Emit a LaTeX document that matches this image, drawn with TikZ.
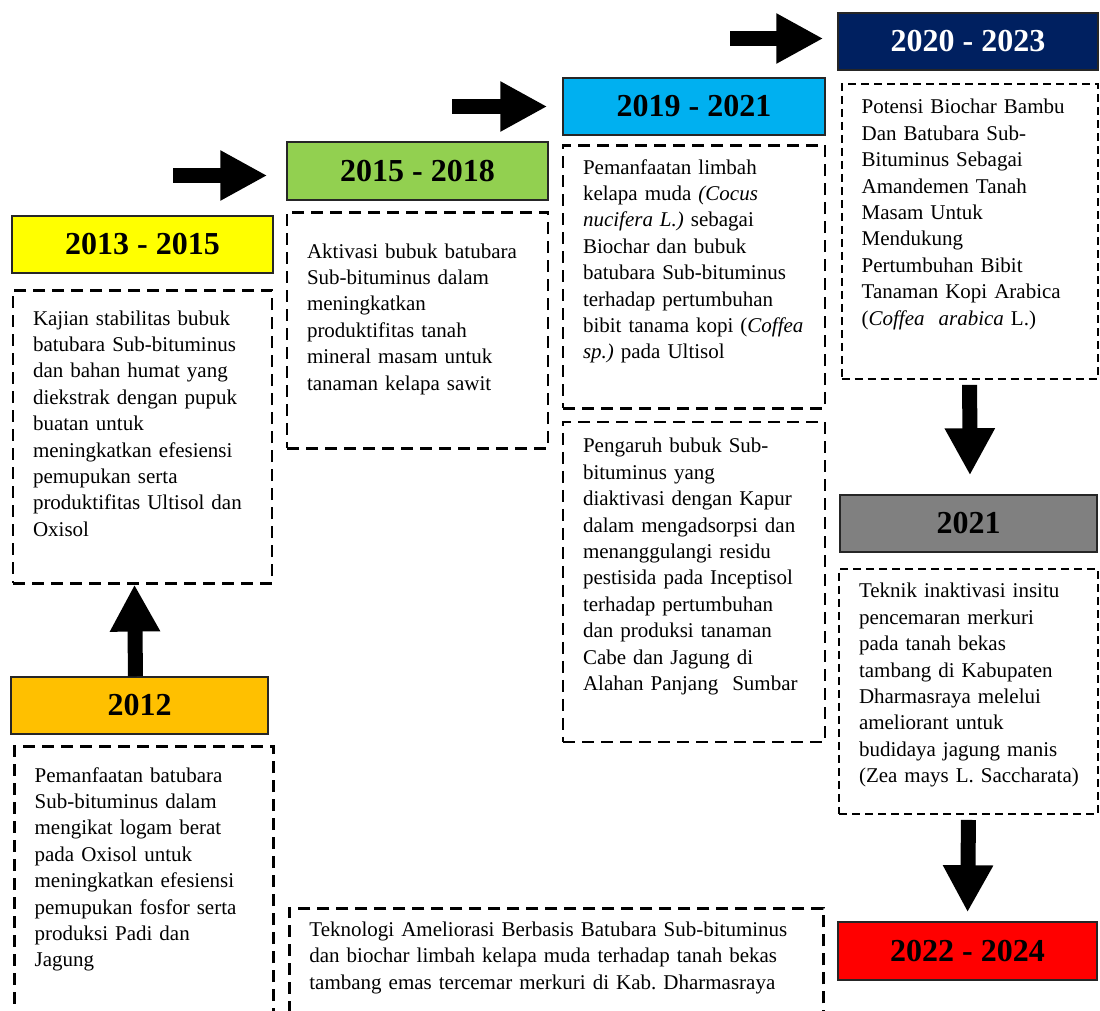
\documentclass[tikz,border=0pt]{standalone}
\usepackage{fontspec}
\setmainfont{Liberation Serif}
\usetikzlibrary{arrows.meta, positioning}
\definecolor{yearyellow}{RGB}{255,255,0}
\definecolor{yeargreen}{RGB}{146,208,80}
\definecolor{yearcyan}{RGB}{0,176,240}
\definecolor{yearnavy}{RGB}{0,32,96}
\definecolor{yeargray}{RGB}{128,128,128}
\definecolor{yearred}{RGB}{255,0,0}
\definecolor{yearorange}{RGB}{255,192,0}
\definecolor{edge}{RGB}{38,38,38}
\frenchspacing
\hyphenpenalty=10000
\exhyphenpenalty=10000

\begin{document}
\begin{tikzpicture}[x=1pt, y=-1pt, node distance=12pt]
\tikzstyle{year} = [rectangle, draw=edge, line width=1.5pt, text=black,
    minimum width=260pt, minimum height=57pt, inner sep=0pt,
    font=\fontsize{32}{36}\selectfont\bfseries]
\tikzstyle{desc} = [rectangle, draw, line width=2.8pt, dash pattern=on 12pt off 7pt,
    inner xsep=20pt, inner ysep=0pt, align=left, font=\fontsize{21}{26.4}\selectfont]
\tikzstyle{finedesc} = [desc, line width=2.2pt, dash pattern=on 8pt off 5pt]
\tikzstyle{blockarrow} = [draw, line width=15pt, -{Triangle[length=47pt, width=47pt]}]
\useasboundingbox (0,0) rectangle (1100,1010);

    % Place nodes
    \node [year, fill=yearorange, minimum width=257pt] (h12) at (139.5,705.5) {2012};
    \node [year, fill=yearyellow, minimum width=261pt] (h1315) at (142.5,244.5) {2013 - 2015};
    \node [year, fill=yeargreen, minimum width=261pt, minimum height=58pt] (h1518) at (417.5,171) {2015 - 2018};
    \node [year, fill=yearcyan, minimum width=262pt] (h1921) at (694,106.5) {2019 - 2021};
    \node [year, fill=yearnavy, text=white] (h2023) at (968,41.5) {2020 - 2023};
    \node [year, fill=yeargray, minimum width=257pt] (h21) at (968.5,523.5) {2021};
    \node [year, fill=yearred, minimum width=259pt, minimum height=58pt] (h2224) at (967.5,951) {2022 - 2024};

    \node [desc, text width=219pt, text height=35pt, text depth=258pt,
        below=15pt of h1315] (d1315)
        {Kajian stabilitas bubuk\\ batubara Sub-bituminus\\ dan bahan humat yang\\
         diekstrak dengan pupuk\\ buatan untuk\\ meningkatkan efesiensi\\
         pemupukan serta\\ produktifitas Ultisol dan\\ Oxisol};
    \node [desc, text width=221pt, text height=46pt, text depth=190pt,
        below=10pt of h1518] (d1518)
        {Aktivasi bubuk batubara\\ Sub-bituminus dalam\\ meningkatkan\\
         produktifitas tanah\\ mineral masam untuk\\ tanaman kelapa sawit};
    \node [desc, text width=222pt, text height=29pt, text depth=234pt,
        below=8pt of h1921] (d1921a)
        {Pemanfaatan limbah\\ kelapa muda \textit{(Cocus}\\ \textit{nucifera L.)} sebagai\\
         Biochar dan bubuk\\ batubara Sub-bituminus\\ terhadap pertumbuhan\\
         bibit tanama kopi (\textit{Coffea}\\ \textit{sp.)} pada Ultisol};
    \node [desc, text width=222pt, text height=31pt, text depth=289pt,
        below=11pt of d1921a] (d1921b)
        {Pengaruh bubuk Sub-\\ bituminus yang\\ diaktivasi dengan Kapur\\
         dalam mengadsorpsi dan\\ menanggulangi residu\\ pestisida pada Inceptisol\\
         terhadap pertumbuhan\\ dan produksi tanaman\\ Cabe dan Jagung di\\
         Alahan Panjang\ \ Sumbar};
    \node [finedesc, text width=216pt, text height=30pt, text depth=265pt,
        below=12pt of h2023.south east, anchor=north east] (d2023)
        {Potensi Biochar Bambu\\ Dan Batubara Sub-\\ Bituminus Sebagai\\
         Amandemen Tanah\\ Masam Untuk\\ Mendukung\\ Pertumbuhan Bibit\\
         Tanaman Kopi Arabica\\ (\textit{Coffea\ \ arabica} L.)};
    \node [finedesc, text width=219pt, text height=29pt, text depth=216pt,
        below=15pt of h21] (d21)
        {Teknik inaktivasi insitu\\ pencemaran merkuri\\ pada tanah bekas\\
         tambang di Kabupaten\\ Dharmasraya melelui\\ ameliorant untuk\\
         budidaya jagung manis\\ \mbox{(Zea mays L. Saccharata)}};
    \node [desc, text width=219pt, text height=36pt, text depth=264pt,
        below=10pt of h12.south west, anchor=north west, xshift=3pt] (d12)
        {Pemanfaatan batubara\\ Sub-bituminus dalam\\ mengikat logam berat\\
         pada Oxisol untuk\\ meningkatkan efesiensi\\ pemupukan fosfor serta\\
         produksi Padi dan\\ Jagung};
    \node [desc, text width=494pt, text height=28pt, text depth=122pt,
        anchor=north west] (d2224) at (288,907)
        {Teknologi Ameliorasi Berbasis Batubara Sub-bituminus\\
         dan biochar limbah kelapa muda terhadap tanah bekas\\
         tambang emas tercemar merkuri di Kab. Dharmasraya};

%paths
    \path [blockarrow] ([xshift=-4pt]h12.north) -- ([xshift=-8pt]d1315.south);
    \path [blockarrow] ([xshift=-113pt, yshift=-4.5pt]h1518.west) -- ([xshift=-19pt, yshift=-4.5pt]h1518.west);
    \path [blockarrow] ([xshift=-110pt]h1921.west) -- ([xshift=-15pt]h1921.west);
    \path [blockarrow] ([xshift=-107pt, yshift=3pt]h2023.west) -- ([xshift=-14pt, yshift=3pt]h2023.west);
    \path [blockarrow, shorten <=5pt, shorten >=19pt] (d2023.south) -- ([xshift=1.5pt]h21.north);
    \path [blockarrow, shorten <=5pt, shorten >=9pt] (d21.south) -- (h2224.north);

\end{tikzpicture}
\end{document}
